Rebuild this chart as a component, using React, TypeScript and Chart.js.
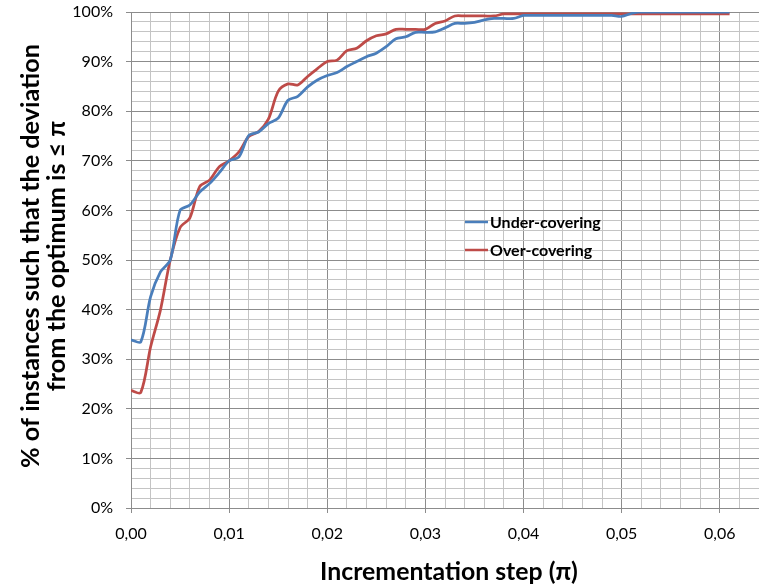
import React, { useEffect, useRef } from 'react';
import { Chart, registerables } from 'chart.js';

Chart.register(...registerables);

const steps = [
  0.000, 0.001, 0.002, 0.003, 0.004, 0.005, 0.006, 0.007, 0.008, 0.009,
  0.010, 0.011, 0.012, 0.013, 0.014, 0.015, 0.016, 0.017, 0.018, 0.019,
  0.020, 0.021, 0.022, 0.023, 0.024, 0.025, 0.026, 0.027, 0.028, 0.029,
  0.030, 0.031, 0.032, 0.033, 0.034, 0.035, 0.036, 0.037, 0.038, 0.039,
  0.040, 0.041, 0.042, 0.043, 0.044, 0.045, 0.046, 0.047, 0.048, 0.049,
  0.050, 0.051, 0.052, 0.053, 0.054, 0.055, 0.056, 0.057, 0.058, 0.059,
  0.060, 0.061,
];

const underCovering = [
  33.9, 33.5, 42.6, 47.6, 50.0, 60.0, 61.1, 63.7, 65.4, 67.6,
  70.0, 70.8, 75.1, 75.8, 77.5, 78.6, 82.2, 83.0, 84.9, 86.3,
  87.2, 87.8, 89.0, 90.0, 91.0, 91.7, 93.0, 94.6, 95.0, 95.9,
  95.9, 96.0, 96.8, 97.7, 97.7, 97.9, 98.4, 98.7, 98.7, 98.7,
  99.3, 99.3, 99.3, 99.3, 99.3, 99.3, 99.3, 99.3, 99.3, 99.3,
  99.1, 99.7, 100, 100, 100, 100, 100, 100, 100, 100,
  100, 100,
];

const overCovering = [
  23.7, 23.3, 32.5, 39.9, 50.0, 56.5, 58.5, 64.8, 66.1, 68.8,
  70.0, 71.8, 74.9, 75.9, 78.4, 84.0, 85.5, 85.3, 87.0, 88.6,
  90.0, 90.3, 92.2, 92.7, 94.2, 95.2, 95.6, 96.5, 96.5, 96.5,
  96.5, 97.7, 98.2, 99.2, 99.2, 99.2, 99.2, 99.2, 99.6, 99.6,
  99.6, 99.6, 99.6, 99.6, 99.6, 99.6, 99.6, 99.6, 99.6, 99.6,
  99.6, 99.6, 99.6, 99.6, 99.6, 99.6, 99.6, 99.6, 99.6, 99.6,
  99.6, 99.6,
];

const seriesNames = ['Under-covering', 'Over-covering'];
const seriesColors = ['#4A7EBB', '#BE4B48'];
const xTickLabels = ['0,00', '0,01', '0,02', '0,03', '0,04', '0,05', '0,06'];
const yTickLabels = ['0%', '10%', '20%', '30%', '40%', '50%', '60%', '70%', '80%', '90%', '100%'];
const xTitle = 'Incrementation step (π)';
const yTitleLines = ['% of instances such that the deviation', 'from the optimum is ≤ π'];

const X_MIN = 0;
const X_MAX = 0.064;
const X_MINOR = 0.002;
const Y_MINOR = 2;

const FONT = 'Lato, "Open Sans", sans-serif';
const MAJOR_GRID = '#8C8C8C';
const MINOR_GRID = '#C4C4C4';

const isMajorX = (v: number) => Math.abs(v * 100 - Math.round(v * 100)) < 1e-6;
const isMajorY = (v: number) => Math.abs(v / 10 - Math.round(v / 10)) < 1e-6;

function fitFont(ctx: CanvasRenderingContext2D, text: string, target: number) {
  ctx.font = `bold 20px ${FONT}`;
  const w = ctx.measureText(text).width || 1;
  const size = (20 * target) / w;
  ctx.font = `bold ${size.toFixed(2)}px ${FONT}`;
}

const overlayPlugin = {
  id: 'overlay',
  afterDraw(chart: any) {
    const ctx = chart.ctx as CanvasRenderingContext2D;
    ctx.save();
    ctx.fillStyle = '#000';
    // x title
    fitFont(ctx, xTitle, 258);
    ctx.textAlign = 'center';
    ctx.textBaseline = 'alphabetic';
    ctx.fillText(xTitle, 449, 580);
    // y title
    ctx.save();
    ctx.translate(39, 256);
    ctx.rotate(-Math.PI / 2);
    fitFont(ctx, yTitleLines[0], 424);
    ctx.fillText(yTitleLines[0], 0, 0);
    ctx.fillText(yTitleLines[1], 0, 26);
    ctx.restore();
    // legend
    ctx.font = `bold 16px ${FONT}`;
    ctx.textAlign = 'left';
    ctx.textBaseline = 'middle';
    const rows = [222, 250];
    seriesNames.forEach((name, i) => {
      ctx.strokeStyle = seriesColors[i];
      ctx.lineWidth = 2.5;
      ctx.beginPath();
      ctx.moveTo(465, rows[i]);
      ctx.lineTo(488, rows[i]);
      ctx.stroke();
      ctx.fillText(name, 490, rows[i] + 1);
    });
    ctx.restore();
  },
};

export default function App() {
  const canvasRef = useRef<HTMLCanvasElement | null>(null);

  useEffect(() => {
    const canvas = canvasRef.current;
    if (!canvas) return;
    const chart = new Chart(canvas, {
      type: 'line',
      data: {
        datasets: [
          {
            label: seriesNames[0],
            data: steps.map((x, i) => ({ x, y: underCovering[i] })),
            borderColor: seriesColors[0],
            backgroundColor: seriesColors[0],
            borderWidth: 2.75,
            pointRadius: 0,
            tension: 0.3,
            fill: false,
          },
          {
            label: seriesNames[1],
            data: steps.map((x, i) => ({ x, y: overCovering[i] })),
            borderColor: seriesColors[1],
            backgroundColor: seriesColors[1],
            borderWidth: 2.75,
            pointRadius: 0,
            tension: 0.3,
            fill: false,
          },
        ],
      },
      options: {
        responsive: false,
        animation: false,
        layout: { padding: { top: 12, right: 0, left: 0, bottom: 0 } },
        plugins: { legend: { display: false }, tooltip: { enabled: false } },
        scales: {
          x: {
            type: 'linear',
            min: X_MIN,
            max: X_MAX,
            afterFit: (s: any) => {
              s.height = 79;
              s.paddingLeft = 0;
              s.paddingRight = 0;
            },
            afterBuildTicks: (s: any) => {
              const t = [];
              const n = Math.round((X_MAX - X_MIN) / X_MINOR);
              for (let i = 0; i <= n; i++) t.push({ value: X_MIN + i * X_MINOR });
              s.ticks = t;
            },
            ticks: {
              autoSkip: false,
              maxRotation: 0,
              minRotation: 0,
              padding: 11,
              color: '#000',
              font: { family: FONT, size: 16 },
              callback: (v: any) => (isMajorX(Number(v)) ? xTickLabels[Math.round(Number(v) * 100)] ?? '' : ''),
            },
            grid: {
              color: (c: any) => (c.tick && isMajorX(c.tick.value) ? MAJOR_GRID : MINOR_GRID),
              tickColor: (c: any) => (c.tick && isMajorX(c.tick.value) ? MAJOR_GRID : 'rgba(0,0,0,0)'),
              tickLength: 5,
              lineWidth: 1,
            },
            border: { color: MAJOR_GRID, width: 1 },
          },
          y: {
            type: 'linear',
            min: 0,
            max: 100,
            afterFit: (s: any) => {
              s.width = 131;
              s.paddingTop = 0;
              s.paddingBottom = 0;
            },
            afterBuildTicks: (s: any) => {
              const t = [];
              for (let v = 0; v <= 100; v += Y_MINOR) t.push({ value: v });
              s.ticks = t;
            },
            ticks: {
              autoSkip: false,
              padding: 13,
              color: '#000',
              font: { family: FONT, size: 16 },
              callback: (v: any) => (isMajorY(Number(v)) ? yTickLabels[Math.round(Number(v) / 10)] : ''),
            },
            grid: {
              color: (c: any) => (c.tick && isMajorY(c.tick.value) ? MAJOR_GRID : MINOR_GRID),
              tickColor: (c: any) => (c.tick && isMajorY(c.tick.value) ? MAJOR_GRID : 'rgba(0,0,0,0)'),
              tickLength: 5,
              lineWidth: 1,
            },
            border: { color: MAJOR_GRID, width: 1 },
          },
        },
      },
      plugins: [overlayPlugin],
    } as any);
    return () => chart.destroy();
  }, []);

  return (
    <div style={{ position: 'absolute', left: 0, top: 0, width: 759, height: 587, background: '#fff' }}>
      <canvas ref={canvasRef} width={759} height={587} style={{ width: 759, height: 587, display: 'block' }} />
    </div>
  );
}
